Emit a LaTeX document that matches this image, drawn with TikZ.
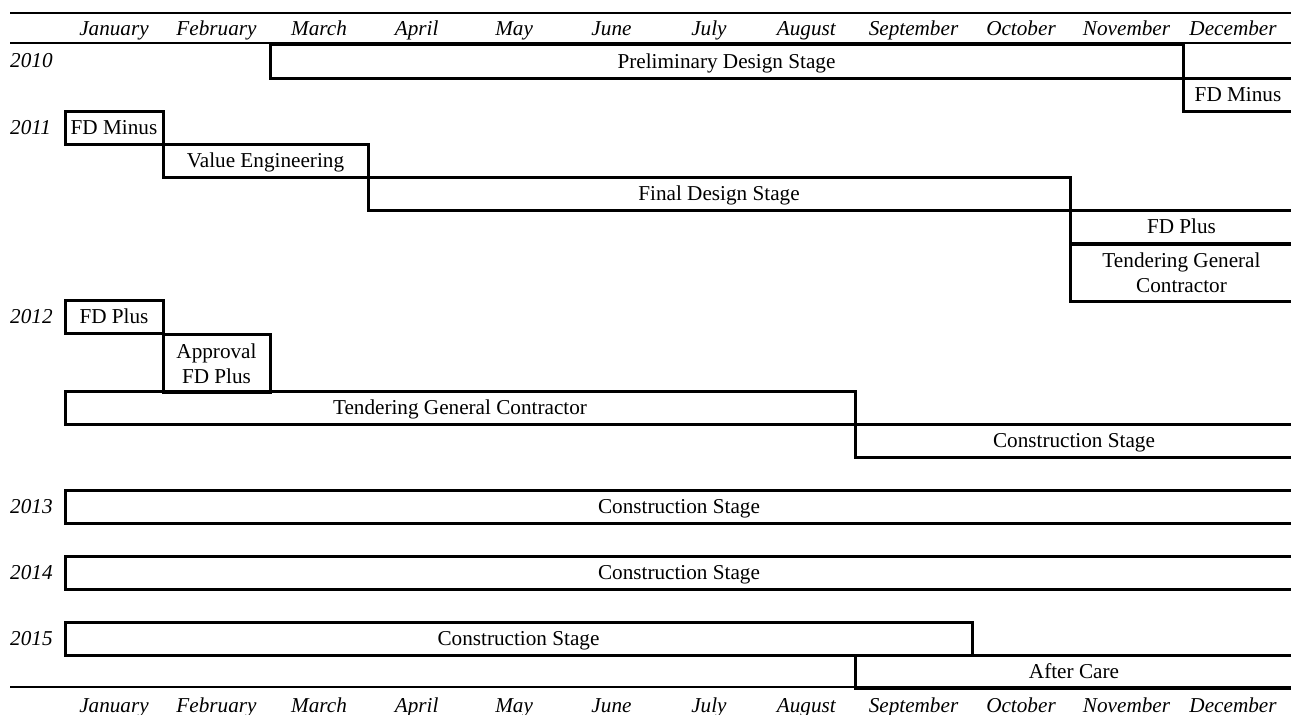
\documentclass[tikz,border=0pt]{standalone}
\usepackage{fontspec}
\setmainfont{Liberation Serif}
\newcommand{\chartfont}{\fontsize{21.2pt}{25pt}\selectfont}
\tikzset{
  stagebox/.style={draw,line width=3pt,outer sep=0pt,inner sep=0pt,anchor=north west,
    align=center,text height=18pt,text depth=3.3pt},
  twoline/.style={text height={},text depth={},yshift=-1.5pt},
  monthlab/.style={font=\chartfont\itshape,anchor=base,inner sep=0pt},
  yearlab/.style={font=\chartfont\itshape,anchor=west,inner sep=0pt},
  rulethin/.style={line width=1.2pt},
}
% one bar of the schedule: [extra style] x from, x to, y from, y to, name, text
\newcommand{\stagebar}[7][]{\node[stagebox,#1,minimum width={#3-#2},minimum height={#5-#4}] (#6) at (#2,#4) {#7};}
\begin{document}
\begin{tikzpicture}[x=1pt,y=-1pt,font=\chartfont]
\useasboundingbox (0,0) rectangle (1291,715);
\clip (0,0) rectangle (1291,715);
\pgfmathsetmacro{\sJan}{65}
\pgfmathsetmacro{\sFeb}{163}
\pgfmathsetmacro{\sMar}{270}
\pgfmathsetmacro{\sApr}{368}
\pgfmathsetmacro{\sSep}{855}
\pgfmathsetmacro{\sOct}{972}
\pgfmathsetmacro{\sNov}{1070}
\pgfmathsetmacro{\sDec}{1183}
\pgfmathsetmacro{\eDec}{1293}
% rules
\draw[rulethin](10,13)--(1291,13);
\draw[rulethin](10,43)--(1291,43);
\draw[rulethin](10,687)--(1291,687);
% months, top and bottom
\foreach \m/\xa/\xb in {January/65/163,February/163/270,March/270/368,April/368/465.4,
  May/465.4/562.8,June/562.8/660.2,July/660.2/757.6,August/757.6/855,
  September/855/972,October/972/1070,November/1070/1183,December/1183/1283}{
  \node[monthlab] (top\m) at ({(\xa+\xb)/2},35) {\m};
  \node[monthlab] (bot\m) at ({(\xa+\xb)/2},712) {\m};
}
% years
\foreach \yr/\yc in {2010/61,2011/127.5,2012/316.5,2013/506.5,2014/572.5,2015/638.5}
  \node[yearlab] (y\yr) at (10,\yc) {\yr};
% 2010
\stagebar{\sMar}{\sDec}{44}{78}{prelim}{Preliminary Design Stage}
\stagebar{\sDec}{\eDec}{78}{111}{fdminA}{FD Minus}
% 2011
\stagebar{\sJan}{\sFeb}{111}{144}{fdminB}{FD Minus}
\stagebar{\sFeb}{\sApr}{144}{177}{valeng}{Value Engineering}
\stagebar{\sApr}{\sNov}{177}{210}{final}{Final Design Stage}
\stagebar{\sNov}{\eDec}{210}{243}{fdplusA}{FD Plus}
\stagebar[twoline]{\sNov}{\eDec}{243}{300}{tenderA}{Tendering General\\Contractor}
% 2012
\stagebar{\sJan}{\sFeb}{300}{333}{fdplusB}{FD Plus}
\stagebar[twoline]{\sFeb}{\sMar}{333}{391}{approval}{Approval\\FD Plus}
\stagebar{\sJan}{\sSep}{391}{424}{tenderB}{Tendering General Contractor}
\stagebar{\sSep}{\eDec}{424}{457}{constrA}{Construction Stage}
% 2013 - 2015
\stagebar{\sJan}{\eDec}{490}{523}{constrB}{Construction Stage}
\stagebar{\sJan}{\eDec}{556}{589}{constrC}{Construction Stage}
\stagebar{\sJan}{\sOct}{622}{655}{constrD}{Construction Stage}
\stagebar{\sSep}{\eDec}{655}{688}{aftercare}{After Care}
\end{tikzpicture}
\end{document}
